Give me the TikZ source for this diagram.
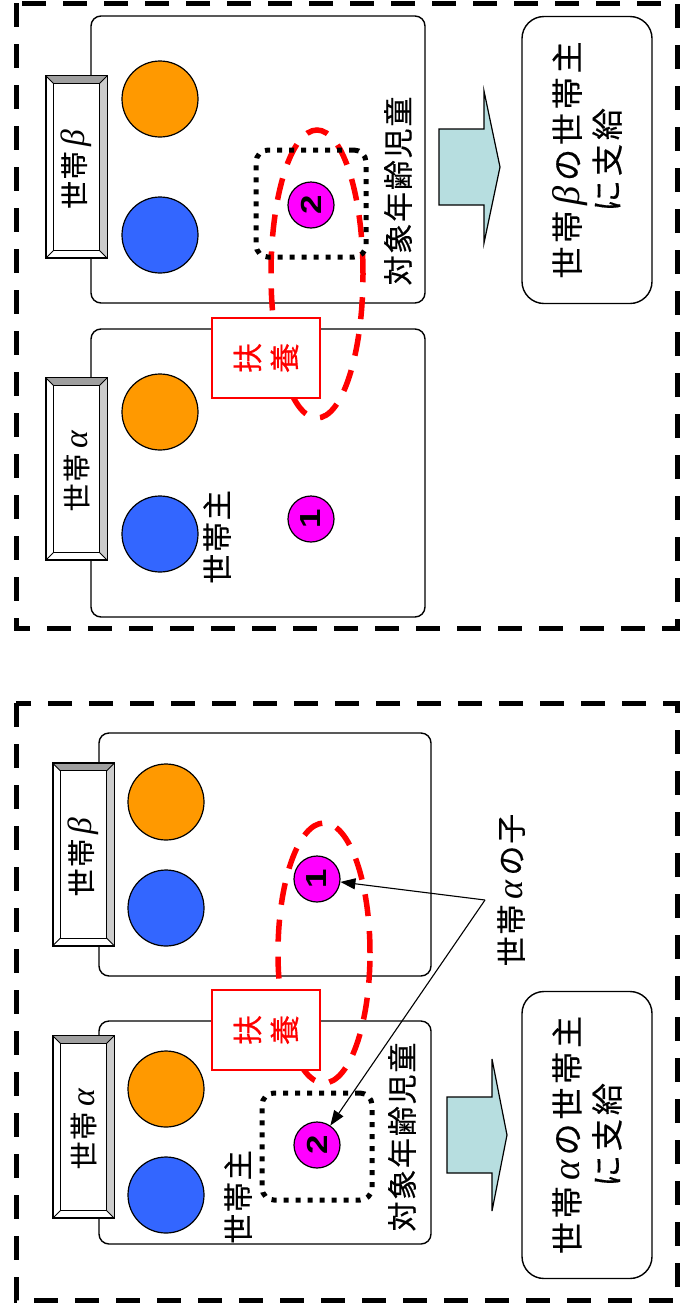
\documentclass[tikz,border=0pt]{standalone}
\usepackage{fontspec}
\setmainfont{Noto Sans CJK JP}[LetterSpace=6,FakeBold=0.4]
\newfontfamily\digf{Liberation Sans}
\newfontfamily\grkf{Liberation Serif}
\newcommand\grb{\,\scalebox{1.2}{\grkf\itshape β}\,}
\newcommand\gra{\,\scalebox{1.2}{\grkf\itshape α}\,}
\usetikzlibrary{arrows.meta,shapes.geometric}
\definecolor{orng}{HTML}{FF9900}
\definecolor{blu}{HTML}{3366FF}
\definecolor{mag}{HTML}{FF00FF}
\definecolor{arrfill}{HTML}{B7DEE0}
\tikzset{
 outer/.style={line width=5pt, dash pattern=on 24pt off 17pt},
 hbox/.style={draw, line width=1.4pt, rounded corners=10pt, fill=white, inner sep=0pt},
 plate/.style={draw, line width=1.2pt, fill=white, minimum width=61pt, minimum height=182pt, inner sep=0pt},
 platetext/.style={rotate=90, font=\fontsize{28}{28}\selectfont, inner sep=0pt},
 person/.style={circle, draw, line width=1.2pt, minimum size=76pt, inner sep=0pt},
 kid/.style={circle, draw, line width=1.2pt, fill=mag, minimum size=46pt, inner sep=0pt, rotate=90, font=\digf\bfseries\fontsize{29}{29}\selectfont},
 lbl/.style={rotate=90, font=\fontsize{30}{30}\selectfont, inner sep=0pt},
 fuyo/.style={rotate=90, draw=red, line width=1.2pt, fill=white, text=red, minimum width=80pt, minimum height=108pt, inner sep=0pt, align=center, font=\fontsize{30}{37}\selectfont},
 loopell/.style={ellipse, draw=red, line width=5.5pt, dash pattern=on 22pt off 15pt, minimum width=92pt, inner sep=0pt},
 dotsq/.style={draw, line width=5pt, dash pattern=on 5pt off 7pt, rounded corners=12pt, minimum width=110pt, minimum height=107pt, inner sep=0pt},
 result/.style={rotate=90, draw, line width=1.4pt, rounded corners=22pt, minimum width=287pt, minimum height=130pt, inner sep=0pt, align=center, font=\fontsize{32}{40}\selectfont\addfontfeature{LetterSpace=12}},
 blockarr/.style={draw, line width=1.2pt, fill=arrfill, line join=miter},
 conn/.style={line width=1.1pt, -{Triangle[length=15pt,width=11pt]}},
}
\newcommand\bevelplate[1]{%
 \fill[gray!75] (#1.north west) -- (#1.north east) -- ([shift={(-8pt,-8pt)}]#1.north east) -- ([shift={(8pt,-8pt)}]#1.north west) -- cycle;
 \fill[gray!40] (#1.north east) -- (#1.south east) -- ([shift={(-8pt,8pt)}]#1.south east) -- ([shift={(-8pt,-8pt)}]#1.north east) -- cycle;
 \draw[line width=1pt] ([shift={(8pt,-8pt)}]#1.north west) rectangle ([shift={(-8pt,8pt)}]#1.south east);
 \draw[line width=0.8pt] (#1.north west) -- ++(8pt,-8pt) (#1.north east) -- ++(-8pt,-8pt)
   (#1.south west) -- ++(8pt,8pt) (#1.south east) -- ++(-8pt,8pt);
 \draw[line width=1.2pt] (#1.north west) rectangle (#1.south east);
}
\begin{document}
\begin{tikzpicture}[x=1pt,y=-1pt]
\useasboundingbox (0,0) rectangle (681,1310);
% ---------- top panel ----------
\draw[outer] (16,3) rectangle (677,628);
\node[hbox, minimum width=334pt, minimum height=287pt] (bTb) at (258,159.5) {};
\node[hbox, minimum width=334pt, minimum height=288pt] (bTa) at (258,473) {};
\node[plate] (pTb) at (76.5,167) {};
\bevelplate{pTb}
\node[platetext] (tTb) at (pTb) {世帯\grb};
\node[plate] (pTa) at (76.5,469) {};
\bevelplate{pTa}
\node[platetext] (tTa) at (pTa) {世帯\gra};
\node[person, fill=orng] (oTb) at (160,99) {};
\node[person, fill=blu] (uTb) at (160,235) {};
\node[person, fill=orng] (oTa) at (160,412) {};
\node[person, fill=blu] (uTa) at (160,534) {};
\node[loopell, minimum height=288pt] (eT) at (317,274) {};
\node[fuyo] (fT) at (266,358) {扶\\養};
\node[dotsq] (dT) at (311,203.5) {};
\node[kid] (k2T) at (311,205) {\scalebox{1.2}[1]{2}};
\node[kid] (k1T) at (311,519) {\scalebox{1.2}[1]{1}};
\node[lbl] (sT) at (398,191) {対象年齢児童};
\node[lbl] (hT) at (217,537) {世帯主};
\draw[blockarr] (439,129) -- (484,129) -- (484,91) -- (500,167) -- (484,243) -- (484,205) -- (439,205) -- cycle;
\node[result] (rT) at (587,160) {世帯\grb の世帯主\\に支給};
% ---------- bottom panel ----------
\draw[outer] (16,703) rectangle (677,1300);
\node[hbox, minimum width=332pt, minimum height=243pt] (bBb) at (265,854.5) {};
\node[hbox, minimum width=332pt, minimum height=223pt] (bBa) at (265,1132.5) {};
\node[plate] (pBb) at (83.5,854.5) {};
\bevelplate{pBb}
\node[platetext] (tBb) at (pBb) {世帯\grb};
\node[plate] (pBa) at (83.5,1127) {};
\bevelplate{pBa}
\node[platetext] (tBa) at (pBa) {世帯\gra};
\node[person, fill=orng] (oBb) at (166,802) {};
\node[person, fill=blu] (uBb) at (166,908) {};
\node[person, fill=orng] (oBa) at (166,1089) {};
\node[person, fill=blu] (uBa) at (166,1195) {};
\node[loopell, minimum height=260pt] (eB) at (324,953) {};
\node[fuyo] (fB) at (266,1030) {扶\\養};
\node[dotsq] (dB) at (317,1146.5) {};
\node[kid] (k1B) at (317,879) {\scalebox{1.2}[1]{1}};
\node[kid] (k2B) at (317,1145) {\scalebox{1.2}[1]{2}};
\node[lbl] (sB) at (402,1137) {対象年齢児童};
\node[lbl] (hB) at (238,1197) {世帯主};
\node[lbl] (cB) at (511,890) {世帯\gra の子};
\coordinate (cv) at (485,900);
\draw[conn] (cv) -- (k1B);
\draw[conn] (cv) -- (k2B);
\draw[blockarr] (447,1097) -- (492,1097) -- (492,1059) -- (507,1135) -- (492,1211) -- (492,1173) -- (447,1173) -- cycle;
\node[result] (rB) at (587,1135) {世帯\gra の世帯主\\に支給};
\end{tikzpicture}
\end{document}
